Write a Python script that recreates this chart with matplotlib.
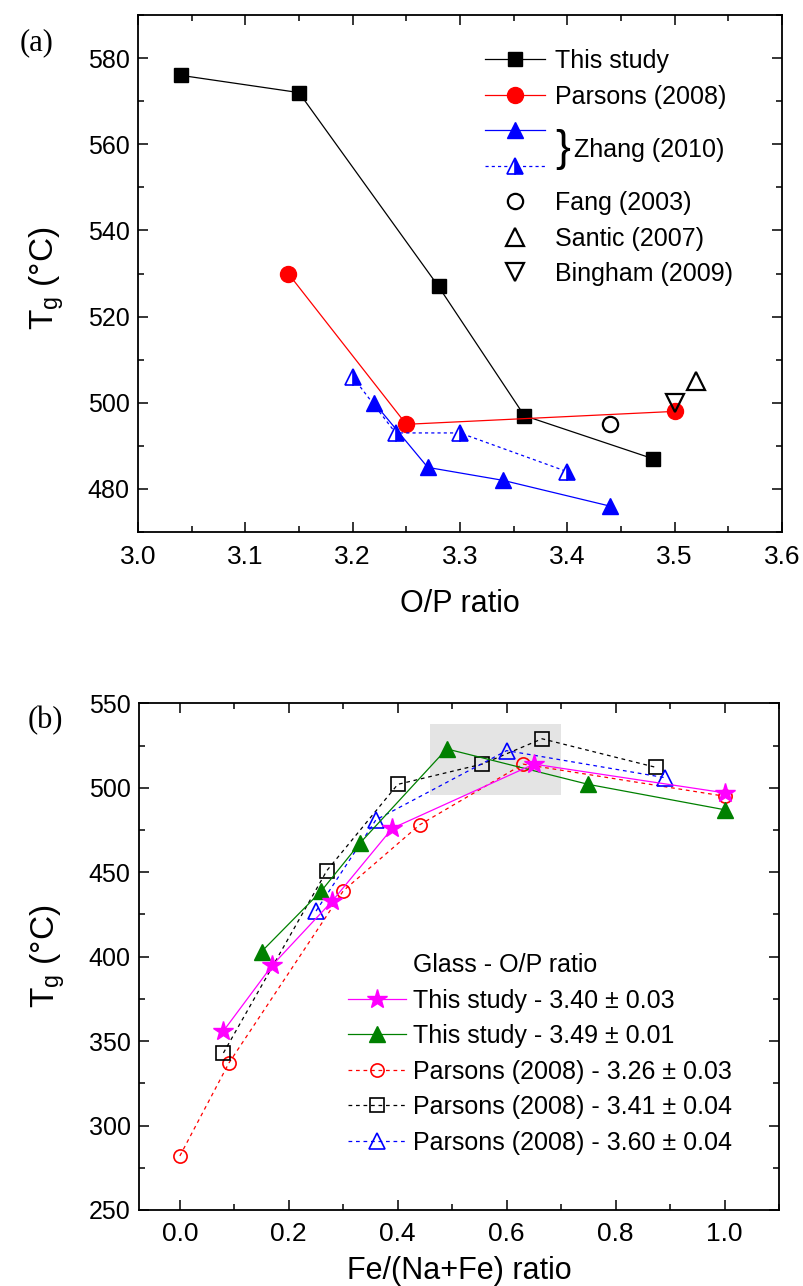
import matplotlib
matplotlib.use("Agg")
import matplotlib.pyplot as plt
from matplotlib.lines import Line2D
from matplotlib.patches import Rectangle
from matplotlib.ticker import MultipleLocator

plt.rcParams['font.family'] = ['Liberation Sans', 'DejaVu Sans']
plt.rcParams['mathtext.fontset'] = 'custom'
plt.rcParams['mathtext.rm'] = 'Liberation Sans'
plt.rcParams['mathtext.default'] = 'regular'
narrow = ['Liberation Sans Narrow', 'Liberation Sans']

# (a) Tg vs O/P ratio
this_op = [3.04, 3.15, 3.28, 3.36, 3.48]
this_tg = [576, 572, 527, 497, 487]
parsons_op = [3.14, 3.25, 3.50]
parsons_tg = [530, 495, 498]
zhang1_op = [3.22, 3.27, 3.34, 3.44]
zhang1_tg = [500, 485, 482, 476]
zhang2_op = [3.20, 3.24, 3.30, 3.40]
zhang2_tg = [506, 493, 493, 484]
fang_op, fang_tg = [3.44], [495]
santic_op, santic_tg = [3.52], [505]
bingham_op, bingham_tg = [3.50], [500]

# (b) Tg vs Fe/(Na+Fe)
s340_x = [0.08, 0.17, 0.28, 0.39, 0.65, 1.00]
s340_tg = [356, 395, 433, 476, 514, 497]
s349_x = [0.15, 0.26, 0.33, 0.49, 0.75, 1.00]
s349_tg = [403, 439, 467, 523, 502, 487]
p326_x = [0.00, 0.09, 0.30, 0.44, 0.63, 1.00]
p326_tg = [282, 337, 439, 478, 514, 495]
p341_x = [0.08, 0.27, 0.40, 0.555, 0.665, 0.875]
p341_tg = [343, 451, 502, 514, 529, 512]
p360_x = [0.25, 0.36, 0.60, 0.89]
p360_tg = [427, 481, 522, 506]

fig = plt.figure(figsize=(8.04, 12.86), dpi=100)
ax1 = fig.add_axes([0.1716, 0.5863, 0.801, 0.402])
ax2 = fig.add_axes([0.1729, 0.0591, 0.796, 0.394])

lw = 0.9
h1, = ax1.plot(this_op, this_tg, color='black', lw=lw, marker='s', ms=10, label='This study')
h2, = ax1.plot(parsons_op, parsons_tg, color='red', lw=lw, marker='o', ms=11.5, label='Parsons (2008)')
h3, = ax1.plot(zhang1_op, zhang1_tg, color='blue', lw=lw, marker='^', ms=12, label='')
h4, = ax1.plot(zhang2_op, zhang2_tg, color='blue', lw=lw, ls=(0, (2.5, 2.5)), marker='^', ms=12,
               fillstyle='right', markerfacecolor='blue', markerfacecoloralt='white',
               markeredgecolor='blue', markeredgewidth=1.2, label='')
h5, = ax1.plot(fang_op, fang_tg, ls='none', marker='o', ms=11, mfc='none', mec='black', mew=1.6,
               label='Fang (2003)')
h6, = ax1.plot(santic_op, santic_tg, ls='none', marker='^', ms=13, mfc='none', mec='black', mew=1.6,
               label='Santic (2007)')
h7, = ax1.plot(bingham_op, bingham_tg, ls='none', marker='v', ms=13, mfc='none', mec='black', mew=1.6,
               label='Bingham (2009)')

ax1.set_xlim(3.0, 3.6)
ax1.set_ylim(470, 590)
ax1.xaxis.set_major_locator(MultipleLocator(0.1))
ax1.xaxis.set_minor_locator(MultipleLocator(0.05))
ax1.yaxis.set_major_locator(MultipleLocator(20))
ax1.yaxis.set_minor_locator(MultipleLocator(10))

leg1 = ax1.legend([h1, h2, h3, h4, h5, h6, h7],
                  ['This study', 'Parsons (2008)', ' ', ' ', 'Fang (2003)', 'Santic (2007)', 'Bingham (2009)'],
                  loc='upper left', bbox_to_anchor=(0.539, 0.934), frameon=False, fontsize=18,
                  numpoints=1, handlelength=2.4, handletextpad=0.4, borderpad=0, borderaxespad=0,
                  labelspacing=0.46)

# (b)
ax2.add_patch(Rectangle((0.46, 496), 0.24, 42, facecolor='#e4e4e4', edgecolor='none', zorder=0))
ax2.plot(p326_x, p326_tg, color='red', lw=lw, ls=(0, (3, 3)), marker='o', ms=9.5, mfc='none', mec='red',
         mew=1.2, label='Parsons (2008) - 3.26 ± 0.03')
ax2.plot(p341_x, p341_tg, color='black', lw=lw, ls=(0, (3, 3)), marker='s', ms=9.5, mfc='none', mec='black',
         mew=1.2, label='Parsons (2008) - 3.41 ± 0.04')
ax2.plot(p360_x, p360_tg, color='blue', lw=lw, ls=(0, (3, 3)), marker='^', ms=11.5, mfc='none', mec='blue',
         mew=1.2, label='Parsons (2008) - 3.60 ± 0.04')
ax2.plot(s349_x, s349_tg, color='green', lw=lw, marker='^', ms=12, label='This study - 3.49 ± 0.01')
ax2.plot(s340_x, s340_tg, color='magenta', lw=lw, marker='*', ms=15, label='This study - 3.40 ± 0.03')

ax2.set_xlim(-0.075, 1.1)
ax2.set_ylim(250, 550)
ax2.xaxis.set_major_locator(MultipleLocator(0.2))
ax2.xaxis.set_minor_locator(MultipleLocator(0.1))
ax2.yaxis.set_major_locator(MultipleLocator(50))
ax2.yaxis.set_minor_locator(MultipleLocator(25))

hs, ls = ax2.get_legend_handles_labels()
order = [4, 3, 0, 1, 2]
title_h = Line2D([], [], ls='none', marker='none')
ax2.legend([title_h] + [hs[i] for i in order], ['Glass - O/P ratio'] + [ls[i] for i in order],
           loc='upper left', bbox_to_anchor=(0.327, 0.507), frameon=False, fontsize=18,
           numpoints=1, handlelength=2.3, handletextpad=0.3, borderpad=0, borderaxespad=0,
           labelspacing=0.46)

for ax in (ax1, ax2):
    ax.tick_params(which='both', direction='in', top=True, right=True, width=1.1)
    ax.tick_params(which='major', length=7)
    ax.tick_params(which='minor', length=4)
    ax.tick_params(axis='y', labelsize=18, pad=6)
    ax.tick_params(axis='x', labelsize=19, pad=9)
    for lab in ax.get_xticklabels():
        lab.set_family(narrow)
    for sp in ax.spines.values():
        sp.set_linewidth(1.3)

ax1.set_xlabel('O/P ratio', fontsize=22, family=narrow)
ax2.set_xlabel('Fe/(Na+Fe) ratio', fontsize=22, family=narrow)
ax1.set_ylabel('T$_g$ ($\\degree$C)', fontsize=24)
ax2.set_ylabel('T$_g$ ($\\degree$C)', fontsize=24)
ax1.xaxis.set_label_coords(0.5, -0.11)
ax2.xaxis.set_label_coords(0.5, -0.09)
ax1.yaxis.set_label_coords(-0.112, 0.49)
ax2.yaxis.set_label_coords(-0.112, 0.5)

fig.text(0.045, 0.967, '(a)', family='Liberation Serif', fontsize=22, ha='center', va='center')
fig.text(0.056, 0.44, '(b)', family='Liberation Serif', fontsize=22, ha='center', va='center')

# brace + label for the two Zhang rows
fig.canvas.draw()
t1 = leg1.get_texts()[1].get_window_extent()
t4 = leg1.get_texts()[4].get_window_extent()
ymid = (t1.y0 + t1.y1 + t4.y0 + t4.y1) / 4
inv = ax1.transAxes.inverted()
bx, by = inv.transform((t1.x0, ymid))
ax1.text(bx, by, '}', transform=ax1.transAxes, fontsize=32, ha='left', va='center')
ax1.text(bx + 0.03, by, 'Zhang (2010)', transform=ax1.transAxes, fontsize=18, ha='left', va='center')

fig.savefig('out.png', dpi=100)
